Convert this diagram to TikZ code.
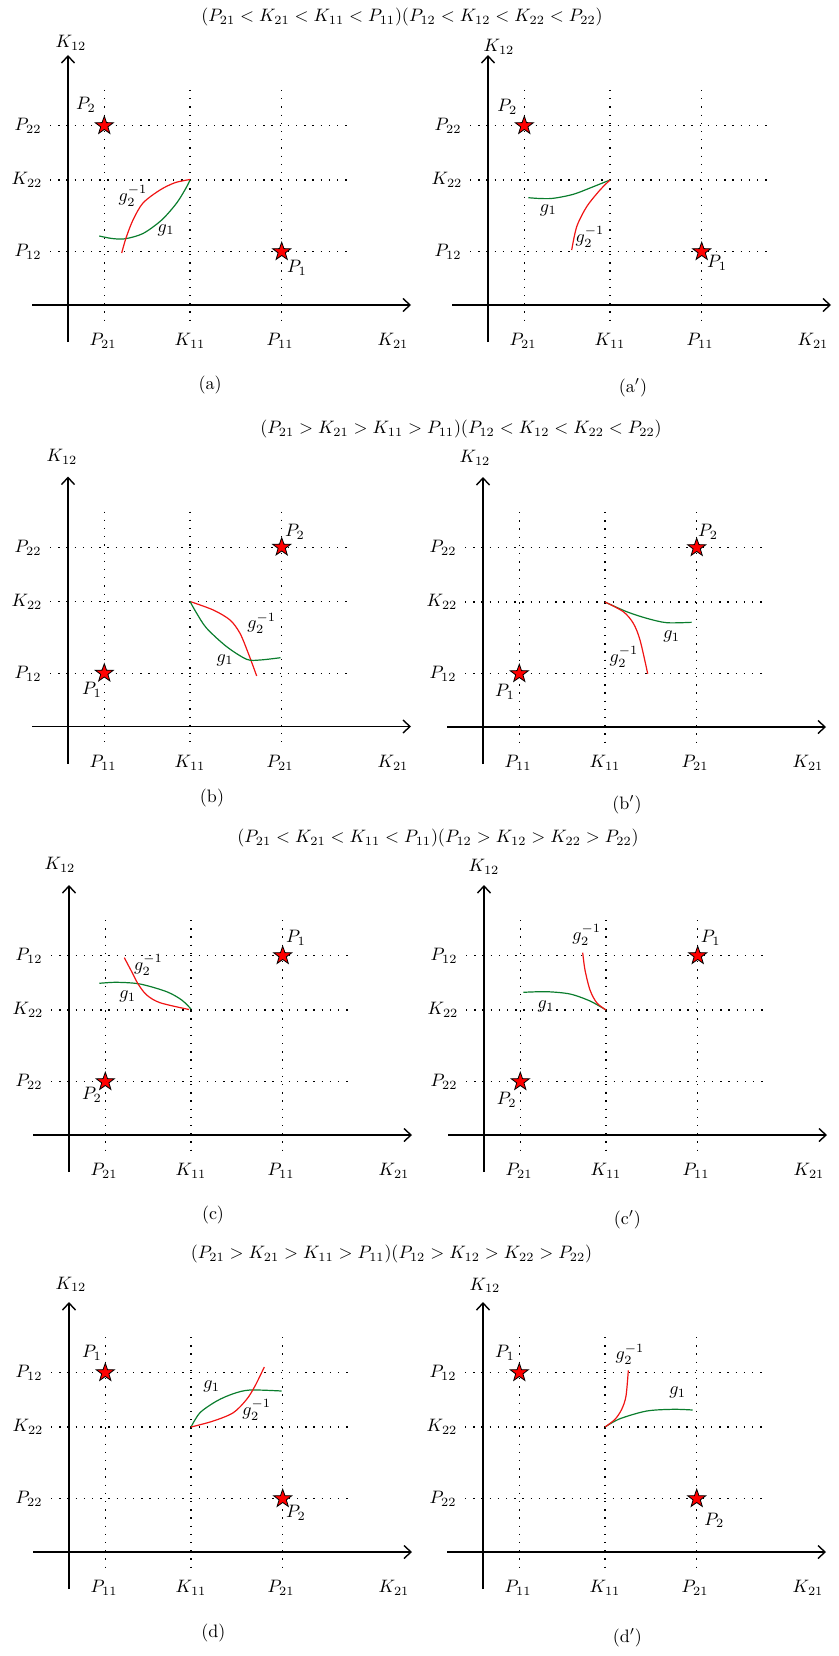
\documentclass[tikz,border=0pt]{standalone}
\usetikzlibrary{arrows.meta,shapes.geometric}
\definecolor{cgreen}{RGB}{10,125,45}
\definecolor{cred}{RGB}{240,20,20}
\tikzset{
  axisline/.style={line width=1.4pt,-{Straight Barb[length=7pt,width=13pt,line width=1.4pt]}},
  gridline/.style={line width=1.3pt,dash pattern=on 1.3pt off 6.9pt},
  lab/.style={inner sep=0pt,scale=1.8},
  pstar/.style={star,star points=5,star point ratio=2.5,fill=red,draw=black,line width=0.8pt,minimum size=19pt,inner sep=0pt},
  gcurve/.style={cgreen,line width=1.2pt},
  rcurve/.style={cred,line width=1.2pt},
}
\newcommand\panelframe[9]{%
\begin{scope}[shift={(#2,#3)}]
  \coordinate (#1-xs) at (32,305); \coordinate (#1-xe) at (411,305);
  \coordinate (#1-ys) at (68,342); \coordinate (#1-ye) at (68,55);
  \coordinate (#1-v1a) at (104.3,90); \coordinate (#1-v1b) at (104.3,323);
  \coordinate (#1-v2a) at (190,90);   \coordinate (#1-v2b) at (190,323);
  \coordinate (#1-v3a) at (281.7,90); \coordinate (#1-v3b) at (281.7,323);
  \coordinate (#1-h1a) at (50,125.7); \coordinate (#1-h1b) at (352,125.7);
  \coordinate (#1-h2a) at (50,180);   \coordinate (#1-h2b) at (352,180);
  \coordinate (#1-h3a) at (50,251.7); \coordinate (#1-h3b) at (352,251.7);
  \draw[gridline] (#1-v1a) -- (#1-v1b);
  \draw[gridline] (#1-v2a) -- (#1-v2b);
  \draw[gridline] (#1-v3a) -- (#1-v3b);
  \draw[gridline] (#1-h1a) -- (#1-h1b);
  \draw[gridline] (#1-h2a) -- (#1-h2b);
  \draw[gridline] (#1-h3a) -- (#1-h3b);
  \draw[axisline] (#1-xs) -- (#1-xe);
  \draw[axisline] (#1-ys) -- (#1-ye);
  \node[lab] (#1-xl1) at (103,341) {#4};
  \node[lab] (#1-xl2) at (190,341) {#5};
  \node[lab] (#1-xl3) at (280,341) {#6};
  \node[lab] (#1-xl4) at (393,341) {$K_{21}$};
  \node[lab] (#1-yl1) at (28,126) {#7};
  \node[lab] (#1-yl2) at (27,180) {#8};
  \node[lab] (#1-yl3) at (28,252) {#9};
\end{scope}}
\begin{document}
\begin{tikzpicture}[x=1pt,y=-1pt]
\useasboundingbox (0,0) rectangle (838,1656);
% titles
\node[lab] (t1) at (402,17) {$(P_{21} < K_{21} < K_{11} < P_{11})(P_{12} < K_{12} < K_{22} < P_{22})$};
\node[lab] (t2) at (461,429) {$(P_{21} > K_{21} > K_{11} > P_{11})(P_{12} < K_{12} < K_{22} < P_{22})$};
\node[lab] (t3) at (438,838) {$(P_{21} < K_{21} < K_{11} < P_{11})(P_{12} > K_{12} > K_{22} > P_{22})$};
\node[lab] (t4) at (391.5,1254) {$(P_{21} > K_{21} > K_{11} > P_{11})(P_{12} > K_{12} > K_{22} > P_{22})$};

% ---------- panel (a)
\panelframe{a}{0}{0}{$P_{21}$}{$K_{11}$}{$P_{11}$}{$P_{22}$}{$K_{22}$}{$P_{12}$}
\node[lab] (a-k12) at (71,43) {$K_{12}$};
\node[lab] (a-cap) at (210,385) {(a)};
\draw[gcurve] plot[smooth] coordinates {(99.3,236) (112,238.5) (125,238.8) (143,233.5) (161.7,220) (176.7,203) (186,188) (190,180)};
\draw[rcurve] plot[smooth] coordinates {(121.7,253) (126,238) (133,220) (143,203) (160,190) (175,182.7) (190,179.5)};
\node[pstar] (a-s2) at (104.3,125.7) {};
\node[pstar] (a-s1) at (281.7,251.7) {};
\node[lab] (a-p2) at (86,105) {$P_2$};
\node[lab] (a-p1) at (297,268) {$P_1$};
\node[lab] (a-g2) at (133,196) {$g_2^{-1}$};
\node[lab] (a-g1) at (166,230) {$g_1$};

% ---------- panel (a')
\panelframe{ap}{420}{0}{$P_{21}$}{$K_{11}$}{$P_{11}$}{$P_{22}$}{$K_{22}$}{$P_{12}$}
\node[lab] (ap-k12) at (499,47) {$K_{12}$};
\node[lab] (ap-cap) at (633,388) {(a$'$)};
\draw[gcurve] plot[smooth] coordinates {(528.3,197.7) (540,198.5) (553.3,198.3) (573.3,194.3) (593.3,186.7) (610,180)};
\draw[rcurve] plot[smooth] coordinates {(571.7,250) (576.7,226.7) (586.7,206.7) (600,190) (610,180)};
\node[pstar] (ap-s2) at (524.3,125.7) {};
\node[pstar] (ap-s1) at (701.7,251.7) {};
\node[lab] (ap-p2) at (507.3,106.7) {$P_2$};
\node[lab] (ap-p1) at (717,263) {$P_1$};
\node[lab] (ap-g1) at (548.3,210) {$g_1$};
\node[lab] (ap-g2) at (590,236.7) {$g_2^{-1}$};

% ---------- panel (b)
\panelframe{b}{0}{421.5}{$P_{11}$}{$K_{11}$}{$P_{21}$}{$P_{22}$}{$K_{22}$}{$P_{12}$}
\node[lab] (b-k12) at (62,457) {$K_{12}$};
\node[lab] (b-cap) at (212,798) {(b)};
\draw[rcurve] plot[smooth] coordinates {(190,601.5) (213.3,610) (230,620) (240,633.3) (248.3,653.3) (256.7,676)};
\draw[gcurve] plot[smooth] coordinates {(190,601.5) (196.7,613.3) (206.7,628.3) (226.7,646.7) (246.7,659.3) (260,660) (280.5,657.7)};
\node[pstar] (b-s2) at (281.7,547.2) {};
\node[pstar] (b-s1) at (104.3,673.2) {};
\node[lab] (b-p2) at (295,532) {$P_2$};
\node[lab] (b-p1) at (92,690) {$P_1$};
\node[lab] (b-g2) at (261.7,623.3) {$g_2^{-1}$};
\node[lab] (b-g1) at (225,660) {$g_1$};

% ---------- panel (b')
\panelframe{bp}{415}{422}{$P_{11}$}{$K_{11}$}{$P_{21}$}{$P_{22}$}{$K_{22}$}{$P_{12}$}
\node[lab] (bp-k12) at (475,458) {$K_{12}$};
\node[lab] (bp-cap) at (627,805) {(b$'$)};
\draw[gcurve] plot[smooth] coordinates {(605,602) (626.7,611.7) (646.7,618.3) (666.7,622.7) (691.7,622.3)};
\draw[rcurve] plot[smooth] coordinates {(605,602) (623.3,611.7) (633.3,623.3) (640,640) (647.7,673.7)};
\node[pstar] (bp-s2) at (696.7,547.7) {};
\node[pstar] (bp-s1) at (519.3,673.7) {};
\node[lab] (bp-p2) at (708,531.7) {$P_2$};
\node[lab] (bp-p1) at (505,691.7) {$P_1$};
\node[lab] (bp-g1) at (671.7,636.7) {$g_1$};
\node[lab] (bp-g2) at (624,656.7) {$g_2^{-1}$};

% ---------- panel (c)
\panelframe{c}{1}{830}{$P_{21}$}{$K_{11}$}{$P_{11}$}{$P_{12}$}{$K_{22}$}{$P_{22}$}
\node[lab] (c-k12) at (60,865) {$K_{12}$};
\node[lab] (c-cap) at (213,1215) {(c)};
\draw[gcurve] plot[smooth] coordinates {(99.3,983.3) (116.7,982.3) (140,984) (166.7,991.7) (181.7,1000) (191,1009)};
\draw[rcurve] plot[smooth] coordinates {(124.3,957.7) (131.7,971.7) (138.3,984.3) (146.7,995) (160,1002.7) (189,1009.5)};
\node[pstar] (c-s1) at (282.7,955.7) {};
\node[pstar] (c-s2) at (105.3,1081.7) {};
\node[lab] (c-p1) at (296,938) {$P_1$};
\node[lab] (c-p2) at (92,1095) {$P_2$};
\node[lab] (c-g2) at (148.3,965) {$g_2^{-1}$};
\node[lab] (c-g1) at (127.7,996.7) {$g_1$};

% ---------- panel (c')
\panelframe{cp}{416}{830}{$P_{21}$}{$K_{11}$}{$P_{11}$}{$P_{12}$}{$K_{22}$}{$P_{22}$}
\node[lab] (cp-k12) at (484,866.7) {$K_{12}$};
\node[lab] (cp-cap) at (627.3,1220) {(c$'$)};
\draw[gcurve] plot[smooth] coordinates {(523.3,992.3) (546.7,991.7) (570,994) (590,1001) (606,1010)};
\draw[rcurve] plot[smooth] coordinates {(582.7,952.7) (585,970) (590,990) (596.7,1002.7) (606,1010)};
\node[pstar] (cp-s1) at (697.7,955.7) {};
\node[pstar] (cp-s2) at (520.3,1081.7) {};
\node[lab] (cp-p1) at (710.7,938) {$P_1$};
\node[lab] (cp-p2) at (506.7,1100) {$P_2$};
\node[lab] (cp-g2) at (586.7,935) {$g_2^{-1}$};
\node[lab] (cp-g1) at (546,1006.7) {$g_1$};

% ---------- panel (d)
\panelframe{d}{1}{1247}{$P_{11}$}{$K_{11}$}{$P_{21}$}{$P_{12}$}{$K_{22}$}{$P_{22}$}
\node[lab] (d-k12) at (71,1284.3) {$K_{12}$};
\node[lab] (d-cap) at (213.3,1632.7) {(d)};
\draw[gcurve] plot[smooth] coordinates {(191,1427) (200,1412.7) (216.7,1401) (233.3,1393.7) (250,1390) (281.7,1391)};
\draw[rcurve] plot[smooth] coordinates {(191,1427) (213.3,1421) (233.3,1412.7) (246.7,1399.3) (255,1386) (264.3,1367)};
\node[pstar] (d-s1) at (105.3,1372.7) {};
\node[pstar] (d-s2) at (282.7,1498.7) {};
\node[lab] (d-p1) at (92,1352.7) {$P_1$};
\node[lab] (d-p2) at (296,1512.7) {$P_2$};
\node[lab] (d-g1) at (211.7,1386.7) {$g_1$};
\node[lab] (d-g2) at (256.7,1410) {$g_2^{-1}$};

% ---------- panel (d')
\panelframe{dp}{415}{1247}{$P_{11}$}{$K_{11}$}{$P_{21}$}{$P_{12}$}{$K_{22}$}{$P_{22}$}
\node[lab] (dp-k12) at (485,1285.3) {$K_{12}$};
\node[lab] (dp-cap) at (627.3,1637.7) {(d$'$)};
\draw[gcurve] plot[smooth] coordinates {(605,1427) (620,1418.7) (646.7,1411) (673.3,1409.3) (692.7,1410)};
\draw[rcurve] plot[smooth] coordinates {(605,1427) (615,1419.3) (621.7,1409.3) (626,1396) (628.3,1370.3)};
\node[pstar] (dp-s1) at (519.3,1372.7) {};
\node[pstar] (dp-s2) at (696.7,1498.7) {};
\node[lab] (dp-p1) at (505,1352.7) {$P_1$};
\node[lab] (dp-p2) at (714.3,1520.3) {$P_2$};
\node[lab] (dp-g2) at (630,1354.3) {$g_2^{-1}$};
\node[lab] (dp-g1) at (677.7,1392.7) {$g_1$};
\end{tikzpicture}
\end{document}
